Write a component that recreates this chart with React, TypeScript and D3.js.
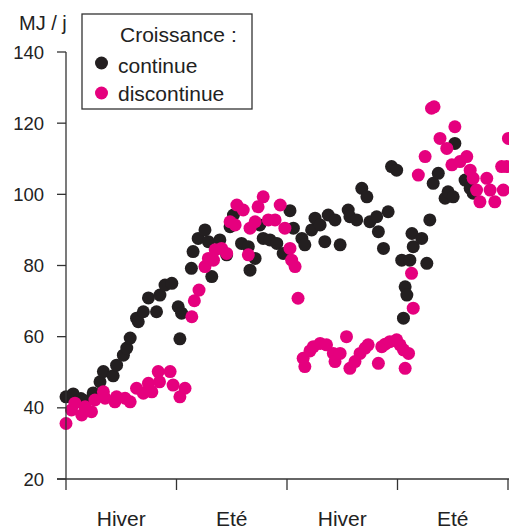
import * as d3 from 'd3';

// week index (0 = start of first winter), energy MJ / j
const continueWeeks = [0, 1.7, 3.5, 4.5, 6.4, 8.0, 8.8, 11.1, 11.9, 13.5, 14.3, 15.1, 16.6, 17.0, 18.2, 19.4, 21.3, 22.1, 23.3, 24.9, 26.4, 27.2, 26.8, 29.5, 29.9, 31.1, 32.7, 33.5, 34.3, 36.2, 37.8, 38.6, 39.4, 41.3, 42.9, 43.3, 44.5, 45.6, 46.4, 48.0, 49.6, 51.1, 52.7, 53.5, 55.5, 56.2, 57.8, 58.6, 59.8, 60.9, 61.7, 63.3, 64.5, 66.4, 66.8, 68.4, 69.6, 70.8, 71.5, 73.1, 73.5, 74.7, 75.8, 76.6, 77.8, 79.0, 80.9, 79.8, 80.2, 79.4, 81.4, 81.7, 83.7, 84.9, 85.6, 86.4, 87.6, 89.2, 89.9, 91.1, 91.5, 93.9, 95.1, 95.8];
const continueValues = [43.1, 43.9, 42.6, 42.0, 44.2, 47.3, 50.2, 49.0, 52.0, 54.8, 56.8, 59.6, 65.2, 64.2, 67.0, 70.9, 67.0, 71.7, 74.5, 75.0, 68.4, 66.6, 59.4, 79.2, 83.9, 87.6, 90.0, 86.7, 76.9, 87.2, 83.0, 90.9, 94.2, 86.2, 85.3, 78.7, 82.0, 91.4, 87.6, 87.2, 86.2, 83.4, 95.4, 90.5, 87.6, 85.8, 90.0, 93.3, 91.4, 86.7, 94.2, 92.8, 85.8, 95.6, 93.7, 92.8, 101.7, 99.3, 92.3, 93.7, 89.5, 84.8, 95.1, 107.8, 106.8, 81.5, 81.5, 74.0, 71.7, 65.2, 89.0, 85.3, 87.6, 80.6, 92.8, 103.1, 105.9, 98.9, 100.7, 99.3, 114.3, 104.0, 101.7, 100.3];

const discontinueWeeks = [0, 1.3, 2.1, 3.7, 4.5, 6.0, 6.8, 8.8, 9.2, 11.5, 11.9, 13.9, 15.1, 16.6, 18.2, 19.4, 20.2, 21.7, 22.0, 24.5, 25.2, 26.8, 28.0, 29.6, 30.2, 31.3, 32.7, 33.5, 34.7, 35.1, 36.6, 37.8, 38.6, 39.8, 40.2, 41.7, 42.9, 43.3, 44.5, 45.2, 46.4, 47.6, 49.2, 50.4, 51.5, 52.7, 53.1, 53.9, 54.6, 55.8, 56.2, 57.4, 58.2, 59.8, 61.3, 62.9, 63.3, 64.5, 66.0, 66.8, 68.0, 69.2, 70.4, 71.1, 73.5, 74.3, 75.1, 76.2, 77.8, 78.6, 79.4, 80.6, 79.8, 81.3, 81.7, 82.9, 84.5, 86.0, 86.6, 88.0, 89.6, 90.8, 91.5, 92.7, 94.3, 95.1, 95.8, 96.6, 97.4, 99.0, 99.8, 100.9, 102.5, 103.7, 102.9, 104.1];
const discontinueValues = [35.6, 39.4, 41.3, 38.0, 40.3, 38.9, 42.2, 44.5, 42.7, 41.7, 43.1, 42.7, 41.7, 45.5, 44.1, 46.9, 44.5, 50.2, 47.3, 50.2, 46.4, 43.1, 45.5, 65.6, 70.1, 73.1, 79.7, 82.0, 81.5, 84.4, 84.8, 83.4, 92.3, 91.4, 97.0, 95.6, 83.0, 90.5, 92.3, 96.5, 99.3, 92.8, 92.8, 97.0, 90.5, 84.8, 81.5, 79.7, 70.8, 53.9, 51.6, 56.0, 57.2, 58.1, 57.7, 55.3, 53.0, 55.3, 60.0, 51.1, 53.0, 55.3, 56.8, 57.7, 52.5, 57.2, 57.9, 58.6, 59.1, 57.7, 56.3, 55.3, 51.1, 77.8, 68.0, 105.4, 110.6, 124.2, 124.6, 115.7, 112.9, 108.3, 119.0, 109.2, 110.6, 106.8, 104.5, 101.2, 97.9, 104.5, 101.2, 97.9, 107.8, 107.8, 101.2, 115.7];

const yTicks = [20, 40, 60, 80, 100, 120, 140];
const seasonTicks = [0, 26, 52, 78, 104];
const seasonLabels = ['Hiver', 'Eté', 'Hiver', 'Eté'];

const BLACK = '#231f20';
const PINK = '#e5007e';
const AXIS = '#333';
const FONT = '"Liberation Sans", Arial, Helvetica, sans-serif';

export default function App() {
  const width = 509;
  const height = 530;

  const x = d3.scaleLinear().domain([0, 104]).range([66, 508]);
  const y = d3.scaleLinear().domain([20, 140]).range([479, 52]);

  const continuePts = continueWeeks.map((w, i) => [w, continueValues[i]]);
  const discontinuePts = discontinueWeeks.map((w, i) => [w, discontinueValues[i]]);

  return (
    <svg
      width={width}
      height={height}
      style={{ position: 'absolute', left: 0, top: 0 }}
      fontFamily={FONT}
    >
      {/* points */}
      {continuePts.map(([w, v], i) => (
        <circle key={'c' + i} cx={x(w)} cy={y(v)} r={6.5} fill={BLACK} />
      ))}
      {discontinuePts.map(([w, v], i) => (
        <circle key={'d' + i} cx={x(w)} cy={y(v)} r={6.5} fill={PINK} />
      ))}

      {/* y axis */}
      <line x1={66} x2={66} y1={y(140)} y2={y(20)} stroke={AXIS} strokeWidth={1.3} />
      {yTicks.map((t) => (
        <g key={t}>
          <line x1={57} x2={66} y1={y(t)} y2={y(t)} stroke={AXIS} strokeWidth={1.3} />
          <text x={44} y={y(t)} dy="0.36em" textAnchor="end" fontSize={18.5} fill="#222">
            {t}
          </text>
        </g>
      ))}
      <text x={19} y={30} fontSize={20} fill="#222">
        MJ / j
      </text>

      {/* x axis */}
      <line x1={57} x2={width} y1={y(20)} y2={y(20)} stroke={AXIS} strokeWidth={1.3} />
      {seasonTicks.map((t) => (
        <line key={t} x1={x(t)} x2={x(t)} y1={y(20)} y2={490} stroke={AXIS} strokeWidth={1.3} />
      ))}
      {seasonLabels.map((s, i) => (
        <text
          key={i}
          x={(x(seasonTicks[i]) + x(seasonTicks[i + 1])) / 2}
          y={526}
          textAnchor="middle"
          fontSize={21}
          fill="#222"
        >
          {s}
        </text>
      ))}

      {/* legend */}
      <rect x={82} y={14} width={170} height={95} fill="white" stroke={AXIS} strokeWidth={1.3} />
      <text x={120} y={42} fontSize={21} fill="#222">
        Croissance :
      </text>
      <circle cx={101.5} cy={63} r={6.5} fill={BLACK} />
      <text x={118} y={73} fontSize={21} fill="#222">
        continue
      </text>
      <circle cx={101.5} cy={93} r={6.5} fill={PINK} />
      <text x={118} y={101} fontSize={21} fill="#222">
        discontinue
      </text>
    </svg>
  );
}
